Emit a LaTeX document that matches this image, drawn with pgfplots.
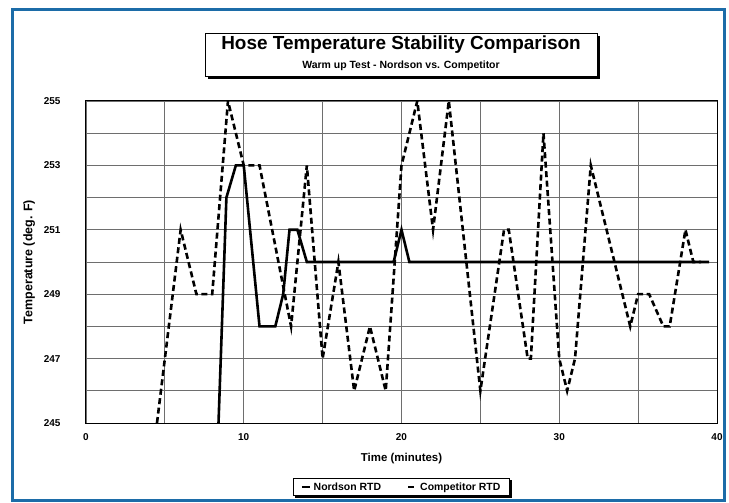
\documentclass[border=0pt]{standalone}
\usepackage{fontspec}
\setmainfont{Liberation Sans}
\usepackage{pgfplots}
\pgfplotsset{compat=1.18}
\usetikzlibrary{shadows}
\definecolor{framblue}{RGB}{28,108,168}
\definecolor{gridgray}{RGB}{110,110,110}
\begin{document}
\begin{tikzpicture}
\path[use as bounding box] (-86bp,-80bp) rectangle (643bp,423bp);
\draw[framblue, line width=3bp] (-73bp,-77bp) rectangle (638bp,413bp);
% title box
\node[draw=black, fill=white, line width=0.8bp, minimum width=392bp, minimum height=43bp,
      drop shadow={shadow xshift=3bp, shadow yshift=-3bp, fill=black, opacity=1}]
      at (315bp,368.5bp) {};
\node[font=\fontsize{19}{22}\selectfont\bfseries] at (315bp,378bp) {Hose Temperature Stability Comparison};
\node[font=\fontsize{10.5}{12}\selectfont\bfseries] at (315bp,357bp) {Warm up Test - Nordson vs. Competitor};
\begin{axis}[
  at={(0,0)}, anchor=south west,
  scale only axis, width=631bp, height=322bp,
  xmin=0, xmax=40, ymin=245, ymax=255,
  xtick={0,10,20,30,40}, minor xtick={5,15,25,35},
  ytick={245,247,...,255}, minor ytick={246,248,...,254},
  grid=both,
  major grid style={gridgray, line width=0.8bp},
  minor grid style={gridgray, line width=0.8bp},
  major tick length=0pt, minor tick length=0pt,
  axis line style={black, line width=1bp},
  tick label style={font=\fontsize{10}{12}\selectfont\bfseries},
  /pgf/number format/assume math mode=true,
  yticklabel shift=22bp,
  xticklabel shift=7bp,
  xlabel={Time (minutes)},
  ylabel={Temperature (deg. F)},
  every axis x label/.style={at={(axis description cs:0.5,-0.109)}, anchor=center,
    font=\fontsize{11.5}{13}\selectfont\bfseries},
  every axis y label/.style={at={(axis description cs:-0.09,0.5)}, rotate=90, anchor=center,
    font=\fontsize{12.5}{14}\selectfont\bfseries},
  legend columns=2,
  legend style={at={(0.5,-0.171)}, anchor=north, draw=black, line width=0.8bp,
    name=leg, inner xsep=7bp,
    font=\fontsize{10.5}{12}\selectfont\bfseries,
    /tikz/every even column/.append style={column sep=24bp}},
  legend image code/.code={\draw[#1] (0cm,0cm) -- (0.3cm,0cm);},
]
\addplot[black, line width=2.6bp] coordinates {
  (8.4,245) (8.9,252) (9.5,253) (10,253) (11,248) (12,248) (12.5,249)
  (12.9,251) (13.4,251) (14,250) (19.5,250) (20,251) (20.5,250) (39.5,250)
};
\addplot[black, line width=2.6bp, dash pattern=on 6bp off 3.5bp] coordinates {
  (4.5,245) (6,251) (7,249) (8,249) (9,255) (10,253) (11,253) (13,248)
  (14,253) (15,247) (16,250) (17,246) (18,248) (19,246) (20,253) (21,255)
  (22,251) (23,255) (25,246) (26.5,251) (26.8,251) (28,247) (28.2,247)
  (29,254) (30,247) (30.5,246) (31,247) (32,253) (34.5,248) (35,249)
  (35.7,249) (36.6,248) (37,248) (38,251) (38.5,250) (39,250)
};
\legend{Nordson RTD, Competitor RTD}
\end{axis}
\draw[black, line width=2bp] ([xshift=1bp, yshift=-2bp]leg.north east) -- ([xshift=1bp, yshift=-1bp]leg.south east) -- ([xshift=2bp, yshift=-1bp]leg.south west);
\end{tikzpicture}
\end{document}
